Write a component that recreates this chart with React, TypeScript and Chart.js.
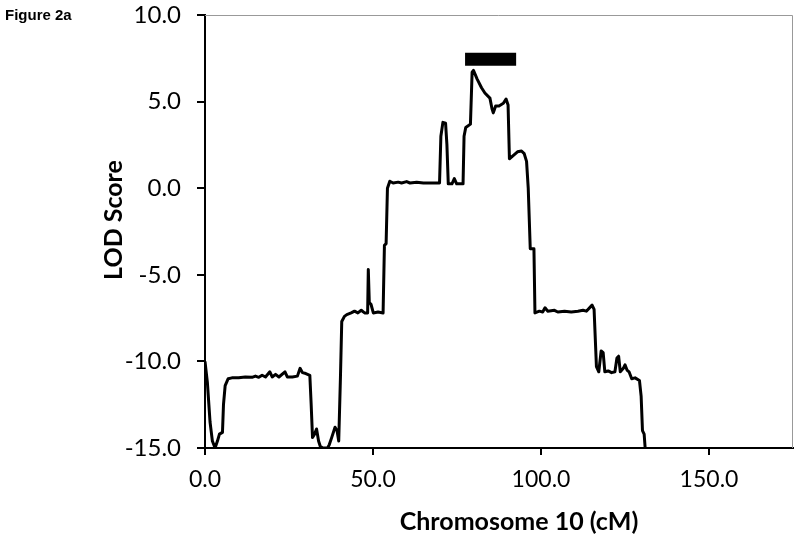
import React, { useEffect, useRef } from "react";
import { Chart, registerables } from "chart.js";

Chart.register(...registerables);

// Chromosome 10 position (cM) and LOD score
const positionCM: number[] = [
  0, 0.7, 1.5, 2.2, 3.0, 3.7, 4.3, 5.2, 5.5, 6.0, 6.9, 8, 10, 12, 14, 15, 16, 17, 18, 19.3,
  20, 21, 22, 23.8, 24.5, 26, 27.5, 28.3, 29, 30, 31.2, 31.6, 32.0, 32.6, 33.2, 33.8, 34.3, 35, 36.5, 37.0,
  37.7, 38.7, 39.3, 39.8, 40.3, 40.7, 41.5, 42.2, 43.5, 44.5, 45.5, 46.5, 47.5, 48.4, 48.6, 48.9, 49.4, 50.1, 51.5, 53.0,
  53.4, 53.9, 54.3, 55.0, 56.0, 57.5, 58.5, 60, 61, 63, 65, 67, 69.8, 70.2, 70.8, 71.6, 72.0, 72.4, 73.5, 74.2,
  74.9, 76.8, 77.1, 77.6, 79.0, 79.5, 79.9, 81, 82.3, 83.3, 84.8, 85.4, 85.8, 86.5, 87.5, 88.8, 89.6, 90.2, 90.6, 91.8,
  93, 94.2, 95.0, 95.7, 96.2, 96.8, 97.9, 98.2, 99.5, 100.5, 101.2, 102, 104, 105, 107, 109, 111, 112.5, 113.5, 115.2,
  115.8, 116.5, 117.2, 117.9, 118.5, 119.0, 120, 121, 122, 122.6, 123.1, 123.6, 124.5, 125.0, 125.6, 126.2, 127, 128, 129.3, 129.8,
  130.2, 130.7, 131.0,
];
const lodScore: number[] = [
  -10.0, -11.2, -13.5, -14.6, -15.0, -14.6, -14.2, -14.1, -12.5, -11.4, -11.0, -10.95, -10.95, -10.9, -10.92, -10.85, -10.92, -10.8, -10.9, -10.6,
  -10.9, -10.75, -10.9, -10.6, -10.9, -10.9, -10.85, -10.4, -10.65, -10.7, -10.8, -12.5, -14.4, -14.2, -13.9, -14.6, -14.9, -15, -15, -14.8,
  -14.4, -13.8, -14.0, -14.6, -11, -7.7, -7.4, -7.3, -7.2, -7.1, -7.2, -7.05, -7.2, -7.2, -4.7, -6.6, -6.7, -7.2, -7.15, -7.2,
  -3.3, -3.2, 0.0, 0.4, 0.3, 0.35, 0.3, 0.38, 0.3, 0.35, 0.3, 0.3, 0.3, 3.0, 3.8, 3.75, 2.5, 0.25, 0.25, 0.55,
  0.25, 0.25, 3.0, 3.5, 3.7, 6.7, 6.8, 6.3, 5.8, 5.5, 5.2, 4.6, 4.35, 4.75, 4.75, 4.9, 5.15, 4.8, 1.7, 1.9,
  2.1, 2.15, 2.0, 1.55, 0.0, -3.5, -3.5, -7.2, -7.1, -7.15, -6.9, -7.1, -7.05, -7.15, -7.1, -7.15, -7.1, -7.05, -7.1, -6.75,
  -7.0, -10.3, -10.6, -9.4, -9.5, -10.6, -10.55, -10.65, -10.6, -9.8, -9.7, -10.6, -10.4, -10.2, -10.5, -10.6, -11.0, -10.95, -11.1, -12.0,
  -14.0, -14.2, -15.0,
];

// Support interval bar
const intervalStart = 77.4;
const intervalEnd = 92.6;
const intervalLod = 7.45;

const xTicks: number[] = [0, 50, 100, 150];
const yTicks: number[] = [-15, -10, -5, 0, 5, 10];

const xTitle = "Chromosome 10 (cM)";
const yTitle = "LOD Score";

const FONT = "Lato, 'Open Sans', sans-serif";

const framePlugin = {
  id: "frame",
  afterDraw(chart: any) {
    const { ctx, chartArea } = chart;
    ctx.save();
    ctx.strokeStyle = "#999";
    ctx.lineWidth = 1;
    ctx.beginPath();
    ctx.moveTo(chartArea.left, chartArea.top + 0.5);
    ctx.lineTo(chartArea.right - 0.5, chartArea.top + 0.5);
    ctx.lineTo(chartArea.right - 0.5, chartArea.bottom);
    ctx.stroke();
    // axis titles
    ctx.fillStyle = "#000";
    ctx.textAlign = "center";
    ctx.textBaseline = "middle";
    ctx.font = `bold 25px ${FONT}`;
    ctx.fillText(xTitle, 519, 522);
    ctx.translate(114, 220);
    ctx.rotate(-Math.PI / 2);
    ctx.font = `bold 25px ${FONT}`;
    ctx.fillText(yTitle, 0, 0);
    ctx.restore();
  },
};

export default function App() {
  const ref = useRef<HTMLCanvasElement | null>(null);

  useEffect(() => {
    if (!ref.current) return;
    const chart = new Chart(ref.current, {
      type: "scatter",
      data: {
        datasets: [
          {
            data: positionCM.map((x, i) => ({ x, y: lodScore[i] })),
            showLine: true,
            borderColor: "#000",
            borderWidth: 3,
            pointRadius: 0,
            tension: 0,
            borderJoinStyle: "round",
          } as any,
          {
            data: [
              { x: intervalStart, y: intervalLod },
              { x: intervalEnd, y: intervalLod },
            ],
            showLine: true,
            borderColor: "#000",
            borderWidth: 13,
            borderCapStyle: "butt",
            pointRadius: 0,
          } as any,
        ],
      },
      options: {
        responsive: false,
        animation: false,
        layout: { padding: { top: 15, right: 7, left: 0, bottom: 0 } },
        plugins: { legend: { display: false }, tooltip: { enabled: false } },
        scales: {
          x: {
            type: "linear",
            min: 0,
            max: 175,
            afterBuildTicks: (s: any) => {
              s.ticks = xTicks.map((v) => ({ value: v }));
            },
            afterFit: (s: any) => {
              s.height = 97;
              s.paddingLeft = 0;
              s.paddingRight = 0;
            },
            ticks: {
              includeBounds: false,
              color: "#000",
              font: { family: FONT, size: 23 },
              padding: 11,
              callback: (v: any) => Number(v).toFixed(1),
            },
            grid: { drawOnChartArea: false, drawTicks: true, tickLength: 7, color: "#000", lineWidth: 2 },
            border: { display: true, color: "#000", width: 2 },
          },
          y: {
            type: "linear",
            min: -15,
            max: 10,
            afterBuildTicks: (s: any) => {
              s.ticks = yTicks.map((v) => ({ value: v }));
            },
            afterFit: (s: any) => {
              s.width = 205;
              s.paddingTop = 0;
              s.paddingBottom = 0;
            },
            ticks: {
              color: "#000",
              font: { family: FONT, size: 24 },
              padding: 16,
              callback: (v: any) => Number(v).toFixed(1),
            },
            grid: { drawOnChartArea: false, drawTicks: true, tickLength: 8, color: "#000", lineWidth: 2 },
            border: { display: true, color: "#000", width: 2 },
          },
        },
      },
      plugins: [framePlugin],
    });
    return () => chart.destroy();
  }, []);

  return (
    <div style={{ position: "absolute", left: 0, top: 0, width: 800, height: 545, background: "#fff" }}>
      <canvas ref={ref} width={800} height={545} style={{ display: "block" }} />
      <div
        style={{
          position: "absolute",
          left: 5,
          top: 6,
          fontFamily: "'Liberation Sans', Arial, sans-serif",
          fontWeight: "bold",
          fontSize: 15,
          color: "#000",
        }}
      >
        Figure 2a
      </div>
    </div>
  );
}
